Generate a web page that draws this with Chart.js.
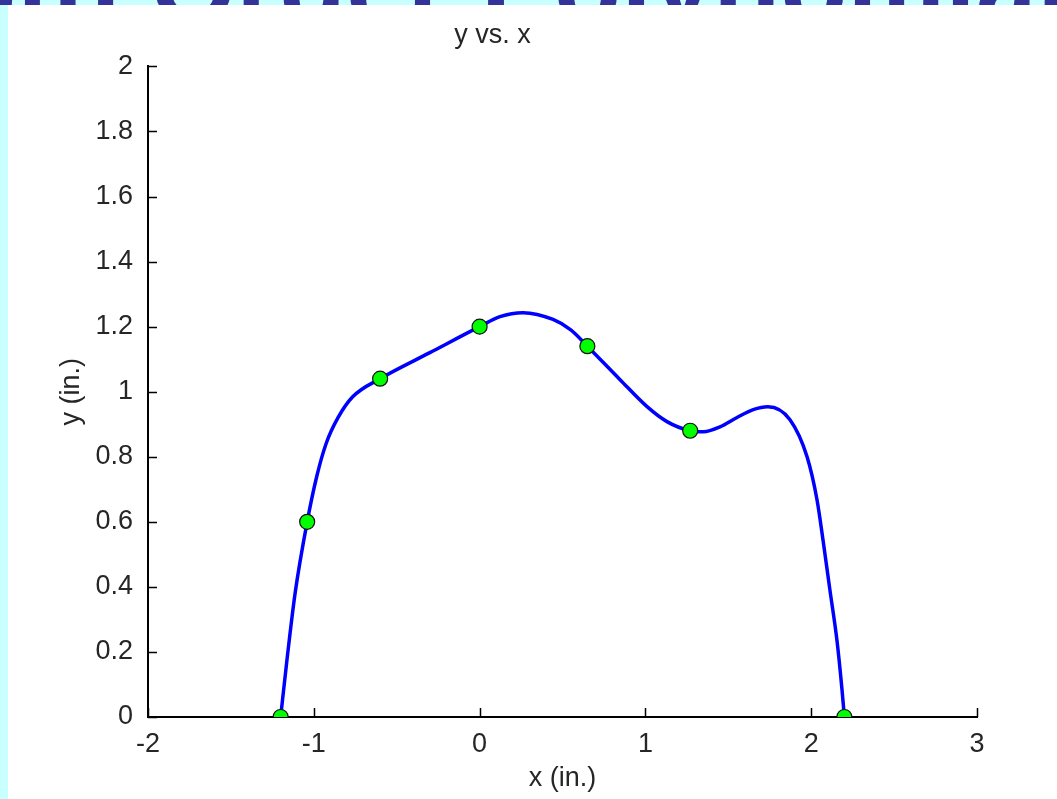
<!DOCTYPE html>
<html>
<head>
<meta charset="utf-8">
<script src="https://cdn.jsdelivr.net/npm/chart.js@4.4.1/dist/chart.umd.min.js"></script>
<style>
  html, body { margin: 0; padding: 0; }
  body { width: 1057px; height: 799px; background: #c8ffff; position: relative; overflow: hidden; }
  .title-clip { position: absolute; left: 0; top: 0; width: 1057px; height: 5px; overflow: hidden; }
  .slide-title {
    position: absolute; left: -45px; top: -78px; white-space: nowrap;
    font: bold 110px "Liberation Sans", Arial, sans-serif; color: #333399;
  }
  .plot { position: absolute; left: 8px; top: 5px; width: 1049px; height: 794px; background: #fff; }
</style>
</head>
<body>
<div class="title-clip"><div class="slide-title">6th Order Polynomial</div></div>
<div class="plot"><canvas id="c" width="1049" height="794"></canvas></div>
<script>
// measured data points (green markers)
const pointsX = [-1.2, -1.04, -0.6, 0, 0.65, 1.27, 2.2]
const pointsY = [0, 0.6, 1.04, 1.2, 1.14, 0.88, 0]

// curve
const curveX = [-1.2, -1.162, -1.113, -1.04, -0.982, -0.926, -0.854, -0.764, -0.6, -0.3, 0, 0.123, 0.262, 0.443, 0.55, 0.65,
  0.847, 1.01, 1.13, 1.27, 1.35, 1.45, 1.55, 1.65, 1.739, 1.872, 1.975, 2.035, 2.071, 2.113, 2.155, 2.186, 2.2]
const curveY = [0, 0.175, 0.38, 0.6, 0.74, 0.84, 0.92, 0.985, 1.04, 1.12, 1.2, 1.231, 1.243, 1.222, 1.19, 1.14,
  1.037, 0.954, 0.908, 0.88, 0.877, 0.892, 0.92, 0.945, 0.954, 0.914, 0.8, 0.668, 0.545, 0.39, 0.237, 0.083, 0]

const xTicks = [-2, -1, 0, 1, 2, 3]
const yTicks = [0, 0.2, 0.4, 0.6, 0.8, 1, 1.2, 1.4, 1.6, 1.8, 2]

const FONT = '"Liberation Sans", Arial, sans-serif'
const TXT = "#262626"

// MATLAB style ticks pointing into the plot
const innerTicks = {
  id: "innerTicks",
  afterDraw(chart) {
    const { ctx, scales: { x, y } } = chart
    ctx.save()
    ctx.strokeStyle = "#000"
    ctx.lineWidth = 1.5
    ctx.beginPath()
    xTicks.forEach(v => {
      const px = Math.round(x.getPixelForValue(v)) + 0.5
      ctx.moveTo(px, y.bottom)
      ctx.lineTo(px, y.bottom - 9)
    })
    yTicks.forEach(v => {
      const py = Math.round(y.getPixelForValue(v)) + 0.5
      ctx.moveTo(x.left, py)
      ctx.lineTo(x.left + 9, py)
    })
    ctx.stroke()
    ctx.restore()
  }
}

new Chart(document.getElementById("c"), {
  type: "scatter",
  data: {
    datasets: [
      {
        label: "data",
        data: pointsX.map((v, i) => ({ x: v, y: pointsY[i] })),
        pointRadius: 7.5,
        pointBackgroundColor: "#00ff00",
        pointBorderColor: "#111",
        pointBorderWidth: 1.2,
        showLine: false,
      },
      {
        label: "fit",
        data: curveX.map((v, i) => ({ x: v, y: curveY[i] })),
        showLine: true,
        borderColor: "#0000ff",
        borderWidth: 3.5,
        pointRadius: 0,
        cubicInterpolationMode: "monotone",
      },
    ],
  },
  options: {
    responsive: false,
    animation: false,
    layout: { padding: { top: 0, right: 80, bottom: 0, left: 0 } },
    plugins: {
      legend: { display: false },
      tooltip: { enabled: false },
      title: {
        display: true,
        text: "y vs. x",
        color: TXT,
        font: { family: FONT, size: 27, weight: "normal" },
        padding: { top: 14, bottom: 15 },
      },
    },
    scales: {
      x: {
        type: "linear",
        min: -2, max: 3,
        afterFit: s => { s.height = 82 },
        afterBuildTicks: s => { s.ticks = xTicks.map(v => ({ value: v })) },
        grid: { display: false },
        border: { display: true, color: "#000", width: 2 },
        ticks: { color: TXT, padding: 3, font: { family: FONT, size: 27 }, callback: v => String(v) },
        title: { display: true, text: "x (in.)", color: TXT, font: { family: FONT, size: 27 }, padding: { top: 4, bottom: 4 } },
      },
      y: {
        type: "linear",
        min: 0, max: 2,
        afterFit: s => { s.width = 140 },
        afterBuildTicks: s => { s.ticks = yTicks.map(v => ({ value: v })) },
        grid: { display: false },
        border: { display: true, color: "#000", width: 2 },
        ticks: { color: TXT, padding: 7, font: { family: FONT, size: 27 }, callback: v => String(+v.toFixed(1)) },
        title: { display: true, text: "y (in.)", color: TXT, font: { family: FONT, size: 27 }, padding: { top: 47, bottom: 47 } },
      },
    },
  },
  plugins: [innerTicks],
})
</script>
</body>
</html>
